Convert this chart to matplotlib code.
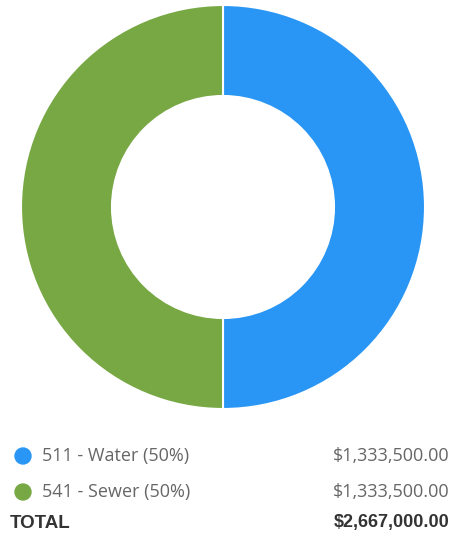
import matplotlib.pyplot as plt
from matplotlib.patches import Circle

labels = ['511 - Water (50%)', '541 - Sewer (50%)']
values = [1333500.00, 1333500.00]
colors = ['#2996f5', '#78a844']
total_label = 'TOTAL'

W, H = 452, 535
fig = plt.figure(figsize=(W / 100, H / 100), dpi=100)
ax = fig.add_axes([0, 0, 1, 1])

# donut, blue on the right starting from the top
ax.pie(values, colors=colors, startangle=90, counterclock=False,
       center=(223, H - 207), radius=202, frame=True,
       wedgeprops=dict(width=91, edgecolor='white', linewidth=1.5))
ax.set_xlim(0, W)
ax.set_ylim(0, H)
ax.set_aspect('equal')
ax.axis('off')

# legend rows
row_y = [456, 492]
for lab, val, col, y in zip(labels, values, colors, row_y):
    ax.add_patch(Circle((23, H - y), 8, color=col))
    ax.text(42, H - y, lab, fontsize=13, color='#666666', va='center',
            ha='left', family='Open Sans')
    ax.text(450, H - y, f'${val:,.2f}', fontsize=13, color='#666666',
            va='center', ha='right', family='Open Sans')

ax.text(10, H - 523, total_label, fontsize=13.5, color='#333333',
        va='center', ha='left', fontweight='bold', family='Liberation Sans')
ax.text(450, H - 523, f'${sum(values):,.2f}', fontsize=13, color='#333333',
        va='center', ha='right', fontweight='bold', family='Liberation Sans')

fig.savefig('out.png', dpi=100)
